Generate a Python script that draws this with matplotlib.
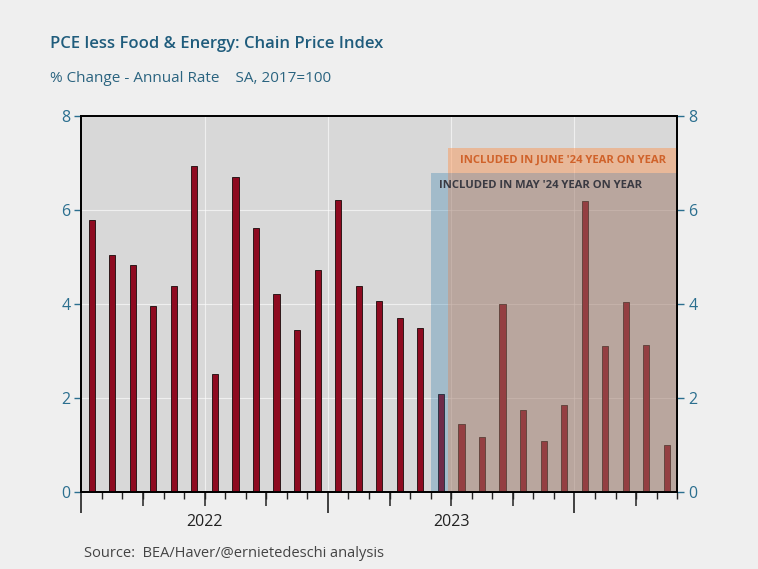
import numpy as np
import matplotlib
matplotlib.use("Agg")
import matplotlib.pyplot as plt

# monthly % change, annual rate (Jan 2022 .. May 2024)
months = ["2022-01", "2022-02", "2022-03", "2022-04", "2022-05", "2022-06",
          "2022-07", "2022-08", "2022-09", "2022-10", "2022-11", "2022-12",
          "2023-01", "2023-02", "2023-03", "2023-04", "2023-05", "2023-06",
          "2023-07", "2023-08", "2023-09", "2023-10", "2023-11", "2023-12",
          "2024-01", "2024-02", "2024-03", "2024-04", "2024-05"]
pce_core = [5.79, 5.04, 4.82, 3.95, 4.38, 6.93, 2.50, 6.69, 5.61, 4.22,
            3.45, 4.72, 6.21, 4.38, 4.07, 3.71, 3.49, 2.08, 1.44, 1.17,
            3.99, 1.74, 1.08, 1.85, 6.19, 3.10, 4.05, 3.13, 1.00]
year_labels = ["2022", "2023"]
yticks = [0, 2, 4, 6, 8]

# shaded windows (start month, height of boxes)
may_start, may_top = "2023-06", 6.79
june_top = 7.31

teal = "#2b6f8f"
plt.rcParams["font.family"] = ["Open Sans", "DejaVu Sans"]

fig = plt.figure(figsize=(7.58, 5.69), dpi=100, facecolor="#efefef")
ax = fig.add_axes([0.1074, 0.1353, 0.786, 0.661])
ax.set_facecolor("#d8d8d8")

x = np.arange(len(months))
ax.bar(x, pce_core, width=0.3, color="#8e0a20", edgecolor="#1a0a0a",
       linewidth=0.6, zorder=3)

ax.set_xlim(-0.5, len(months) - 0.5)
ax.set_ylim(0, 8)

# gridlines
for v in yticks[1:-1]:
    ax.axhline(v, color="white", lw=0.8, alpha=0.6, zorder=1)
for k in range(6, len(months), 6):
    ax.axvline(k - 0.5, color="white", lw=0.8, alpha=0.6, zorder=1)

# shaded windows
i0 = months.index(may_start) - 0.5
i1 = i0 + 0.85
right = len(months) - 0.5
ax.fill_between([i0, i1], 0, may_top, color="#2578aa", alpha=0.3,
                lw=0, zorder=4)
ax.fill_between([i1, right], 0, may_top, color="#9b7565", alpha=0.5,
                lw=0, zorder=4)
ax.fill_between([i1, right], may_top, june_top, color="#f9995b", alpha=0.5,
                lw=0, zorder=4)
ax.text((i1 + right) / 2, (may_top + june_top) / 2,
        "INCLUDED IN JUNE '24 YEAR ON YEAR", color="#d0622a",
        fontsize=8.1, fontweight="bold", ha="center", va="center", zorder=5)
ax.text(i0 + 0.42, may_top - 0.27, "INCLUDED IN MAY '24 YEAR ON YEAR",
        color="#3a3a42", fontsize=8.1, fontweight="bold", ha="left",
        va="center", zorder=5)

# y axes
ax.set_yticks(yticks)
ax.tick_params(axis="y", colors=teal, labelsize=11.5, length=5, width=1,
               pad=3)
ax2 = ax.twinx()
ax2.set_ylim(0, 8)
ax2.set_yticks(yticks)
ax2.tick_params(axis="y", colors=teal, labelsize=11.5, length=5, width=1,
                pad=3)
for a in (ax, ax2):
    for s in a.spines.values():
        s.set_color("black")
        s.set_linewidth(1.3)

# x ticks: monthly minor, yearly long, quarterly medium
ax.set_xticks([k - 0.5 for k in range(0, len(months), 12)])
ax.set_xticks([k - 0.5 for k in range(len(months) + 1)], minor=True)
ax.set_xticklabels([])
ax.tick_params(axis="x", which="major", length=15, width=1.2, color="#222")
ax.tick_params(axis="x", which="minor", length=5, width=1, color="#222")

qax = ax.secondary_xaxis("bottom")
qax.set_xticks([k - 0.5 for k in range(3, len(months), 3) if k % 12])
qax.set_xticklabels([])
qax.tick_params(length=10, width=1.1, color="#222")
qax.spines["bottom"].set_visible(False)

lax = ax.secondary_xaxis("bottom")
lax.set_xticks([12 * i + 5.5 for i in range(len(year_labels))])
lax.set_xticklabels(year_labels)
lax.tick_params(length=0, labelsize=11.5, labelcolor="#222", pad=16)
lax.spines["bottom"].set_visible(False)

# titles
fig.text(0.066, 0.923, "PCE less Food & Energy: Chain Price Index",
         color="#1f5c7c", fontsize=12, fontweight="semibold",
         ha="left", va="center")
fig.text(0.066, 0.862, "% Change - Annual Rate    SA, 2017=100",
         color="#2b6480", fontsize=11, ha="left", va="center")
fig.text(0.111, 0.028, "Source:  BEA/Haver/@ernietedeschi analysis",
         color="#444444", fontsize=10.5, ha="left", va="center")

fig.savefig("out.png", dpi=100, facecolor=fig.get_facecolor())
